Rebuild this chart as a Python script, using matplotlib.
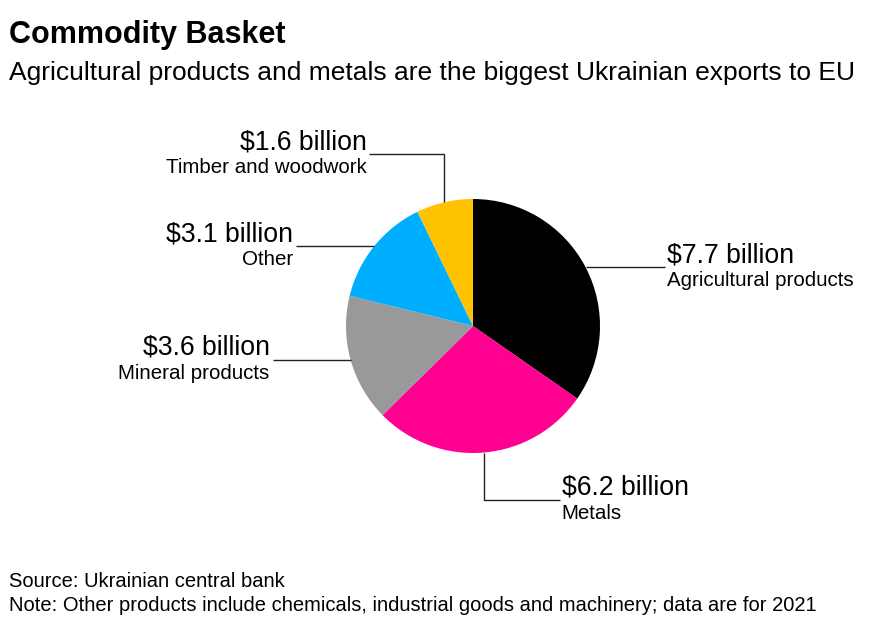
import numpy as np
import matplotlib
matplotlib.use("Agg")
import matplotlib.pyplot as plt

plt.rcParams['font.family'] = ['Liberation Sans', 'DejaVu Sans']

# data
categories = ["Agricultural products", "Metals", "Mineral products", "Other", "Timber and woodwork"]
values = [7.7, 6.2, 3.6, 3.1, 1.6]
value_labels = ["$7.7 billion", "$6.2 billion", "$3.6 billion", "$3.1 billion", "$1.6 billion"]
colors = ["#000000", "#ff0090", "#999999", "#00aeff", "#ffc200"]

W, H = 885, 633
# leader layout: (vertical px, horizontal px) from wedge middle; negative = up / left
leaders = [(0, 79), (47, 76), (0, -78), (0, -78), (-48, -75)]

fig = plt.figure(figsize=(W / 100, H / 100), dpi=100)
ax = fig.add_axes([0, 0, 1, 1])

cx, cy, r = 473, H - 326, 127
wedges, _ = ax.pie(values, colors=colors, startangle=90, counterclock=False,
                   center=(cx, cy), radius=r, wedgeprops=dict(linewidth=0))
ax.set_xlim(0, W)
ax.set_ylim(0, H)
ax.axis('off')

for w, (dv, dh), val, cat in zip(wedges, leaders, value_labels, categories):
    mid = np.deg2rad((w.theta1 + w.theta2) / 2)
    x0, y0 = cx + r * np.cos(mid), cy + r * np.sin(mid)
    xs, ys = [x0], [y0]
    if dv:
        ys.append(y0 - dv)
        xs.append(x0)
    ys.append(ys[-1])
    xs.append(xs[-1] + dh)
    ax.plot(xs, ys, color='#222222', lw=1.0, solid_capstyle='butt')
    if dh > 0:
        tx, ha = xs[-1] + 2, 'left'
    else:
        tx, ha = xs[-1] - 3, 'right'
    ax.text(tx, ys[-1] + 5, val, ha=ha, va='baseline', fontsize=19.2, color='black')
    ax.text(tx, ys[-1] - 19, cat, ha=ha, va='baseline', fontsize=14.8, color='black')

fig.text(9 / W, 1 - 43 / H, "Commodity Basket", fontsize=22, fontweight='bold', va='baseline')
fig.text(9 / W, 1 - 80 / H,
         "Agricultural products and metals are the biggest Ukrainian exports to EU",
         fontsize=19, va='baseline')
fig.text(9 / W, 1 - 587 / H, "Source: Ukrainian central bank", fontsize=14.5, va='baseline')
fig.text(9 / W, 1 - 611 / H,
         "Note: Other products include chemicals, industrial goods and machinery; data are for 2021",
         fontsize=14.5, va='baseline')

fig.savefig("out.png", dpi=100, facecolor='white')
